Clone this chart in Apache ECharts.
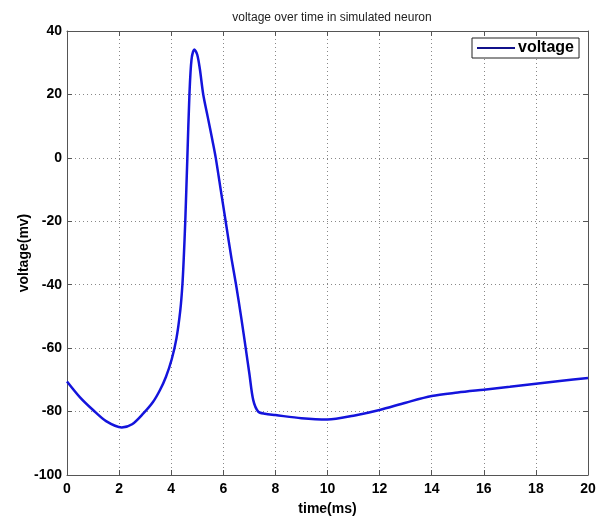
<!DOCTYPE html>
<html>
<head>
<meta charset="utf-8">
<script src="https://cdn.jsdelivr.net/npm/echarts@6/dist/echarts.min.js"></script>
<style>html,body{margin:0;padding:0;background:#fff}#c{width:602px;height:522px}</style>
</head>
<body>
<div id="c"></div>
<script>
var titleText = 'voltage over time in simulated neuron';
var seriesName = 'voltage';
var xName = 'time(ms)';
var yName = 'voltage(mv)';
var timeMs = [0, 0.5, 1.0, 1.5, 2.1, 2.5, 2.93, 3.3, 3.57, 3.8, 4.02, 4.2, 4.35, 4.43, 4.48, 4.54, 4.62, 4.70, 4.78, 4.89, 5.0, 5.1, 5.23, 5.4, 5.58, 5.71, 5.9, 6.09, 6.32, 6.49, 6.7, 6.86, 7.0, 7.15, 7.34, 7.6, 8, 9, 10, 11, 12, 13, 14, 15, 16, 17, 18, 19, 20];
var voltage = [-70.5, -75.5, -79.5, -83, -85, -84, -80.6, -77, -73.2, -69, -63.5, -57, -48, -40, -32, -20, 0, 20, 31, 34.2, 32.5, 28, 20, 13, 5.6, 0, -10, -20, -32, -40, -51, -60, -68, -76.4, -80, -80.7, -81.1, -82.1, -82.5, -81.3, -79.5, -77.2, -75.1, -74, -73.1, -72.2, -71.2, -70.3, -69.4];
var xMin = 0, xMax = 20, xStep = 2;
var yMin = -100, yMax = 40, yStep = 20;

var pts = timeMs.map(function (t, i) { return [t, voltage[i]]; });
var fontFam = 'Liberation Sans, Arial, sans-serif';
var axisCol = '#555';
var gridLine = {show: true, lineStyle: {type: [1, 3], color: '#888', width: 1}};
var chart = echarts.init(document.getElementById('c'), null, {renderer: 'canvas'});
var common = {
  axisLine: {show: true, onZero: false, lineStyle: {color: axisCol, width: 1}},
  axisTick: {show: true, inside: true, length: 5, lineStyle: {color: axisCol}}
};
chart.setOption({
  animation: false,
  backgroundColor: '#fff',
  title: {
    text: titleText, left: 327, textAlign: 'center', top: 7,
    textStyle: {fontSize: 12, fontWeight: 'normal', color: '#222', fontFamily: fontFam}
  },
  legend: {
    data: [seriesName], left: 472, top: 38,
    orient: 'vertical',
    borderColor: '#222', borderWidth: 1, padding: [2, 5], backgroundColor: '#fff',
    itemWidth: 38, itemHeight: 14, itemGap: 0,
    icon: 'path://M0,6L38,6L38,8L0,8Z',
    itemStyle: {color: '#10108a'},
    textStyle: {fontSize: 16, fontWeight: 'bold', color: '#000', fontFamily: fontFam, padding: [0, 0, 0, -2]}
  },
  grid: {left: 67, right: 14, top: 31, bottom: 47, containLabel: false},
  xAxis: [Object.assign({
    type: 'value', min: xMin, max: xMax, interval: xStep,
    name: xName, nameLocation: 'middle', nameGap: 27, nameMoveOverlap: false,
    nameTextStyle: {fontSize: 14, fontWeight: 'bold', color: '#000', fontFamily: fontFam},
    axisLabel: {fontSize: 14, fontWeight: 'bold', color: '#000', margin: 7, fontFamily: fontFam},
    splitLine: gridLine
  }, common), Object.assign({
    type: 'value', min: xMin, max: xMax, interval: xStep, position: 'top',
    axisLabel: {show: false}, splitLine: {show: false}
  }, common)],
  yAxis: [Object.assign({
    type: 'value', min: yMin, max: yMax, interval: yStep,
    name: yName, nameLocation: 'middle', nameGap: 36, nameMoveOverlap: false,
    nameTextStyle: {fontSize: 14, fontWeight: 'bold', color: '#000', fontFamily: fontFam},
    axisLabel: {fontSize: 14, fontWeight: 'bold', color: '#000', margin: 5, fontFamily: fontFam},
    splitLine: gridLine
  }, common), Object.assign({
    type: 'value', min: yMin, max: yMax, interval: yStep, position: 'right',
    axisLabel: {show: false}, splitLine: {show: false}
  }, common)],
  series: [{
    name: seriesName, type: 'line', data: pts, showSymbol: false, smooth: 0.3,
    lineStyle: {color: '#1414dc', width: 2.5}, itemStyle: {color: '#1414dc'}
  }]
});
</script>
</body>
</html>
